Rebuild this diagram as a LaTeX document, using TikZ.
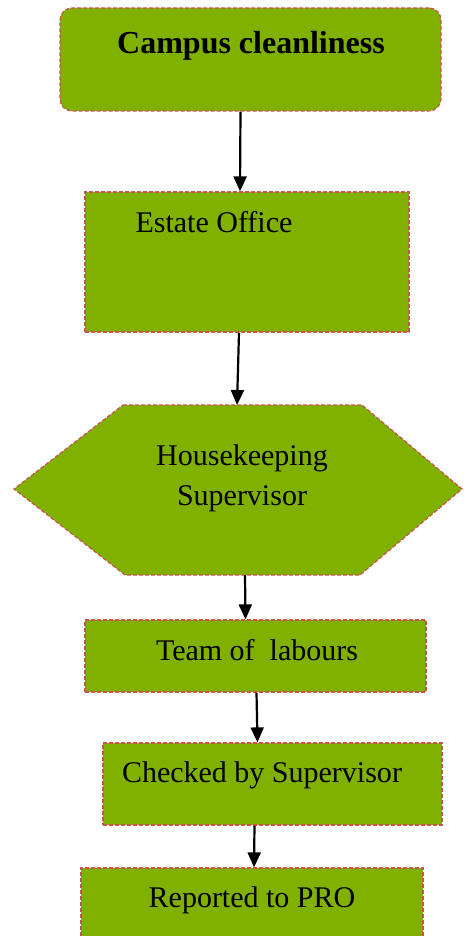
\documentclass[tikz,border=0pt]{standalone}
\usepackage{fontspec}
\setmainfont{Liberation Serif}
\definecolor{leaf}{RGB}{128,176,0}
\definecolor{rim}{RGB}{200,85,80}
\usetikzlibrary{arrows.meta,calc,positioning}

\tikzset{
  stage/.style={fill=leaf, draw=rim, line width=1.2pt, inner sep=0pt, dash pattern=on 4pt off 2pt},
  flow/.style={-{Triangle[length=15pt,width=13pt]}, line width=2.2pt, black},
  caption/.style={font=\fontsize{30}{40}\selectfont, align=center, inner sep=0pt}
}

\begin{document}
\begin{tikzpicture}[x=1pt,y=-1pt]
  \useasboundingbox (0,0) rectangle (463,936);

  % boxes
  \node[stage, rounded corners=12pt, minimum width=381pt, minimum height=103pt] (campus) at (250.5,59.5) {};
  \node[stage, minimum width=324pt, minimum height=140pt] (estate) at (247,262) {};
  \draw[stage] (123,405) -- (362,405) -- (462,489) -- (360,575) -- (125,575) -- (14,489) -- cycle;
  \coordinate (hextop) at (237,405);
  \coordinate (hexbot) at (245,575);
  \node[stage, minimum width=341pt, minimum height=72pt] (team) at (255.5,656) {};
  \node[stage, minimum width=339pt, minimum height=82pt] (checked) at (272.5,784) {};
  \node[stage, minimum width=342pt, minimum height=80pt] (pro) at (252,908) {};

  % texts
  \node[caption, font=\fontsize{32}{36}\selectfont\bfseries] (campustxt) at (251,46) {Campus cleanliness};
  \node[caption] (estatetxt) at (214,222) {Estate Office};
  \node[caption] (hktxt) at (242,478) {Housekeeping\\Supervisor};
  \node[caption] (teamtxt) at (257,650) {Team of~ labours};
  \node[caption] (checkedtxt) at (262,775) {Checked by Supervisor};
  \node[caption] (protxt) at (252,900) {Reported to PRO};

  % arrows
  \draw[flow] ([xshift=-10pt]campus.south) -- ([xshift=-7pt]estate.north);
  \draw[flow] ([xshift=-8pt]estate.south) -- (hextop);
  \draw[flow] (hexbot) -- ([xshift=-10pt]team.north);
  \draw[flow] ([xshift=1pt]team.south) -- ([xshift=-15pt]checked.north);
  \draw[flow] ([xshift=-18pt]checked.south) -- ([xshift=2pt]pro.north);
\end{tikzpicture}
\end{document}
